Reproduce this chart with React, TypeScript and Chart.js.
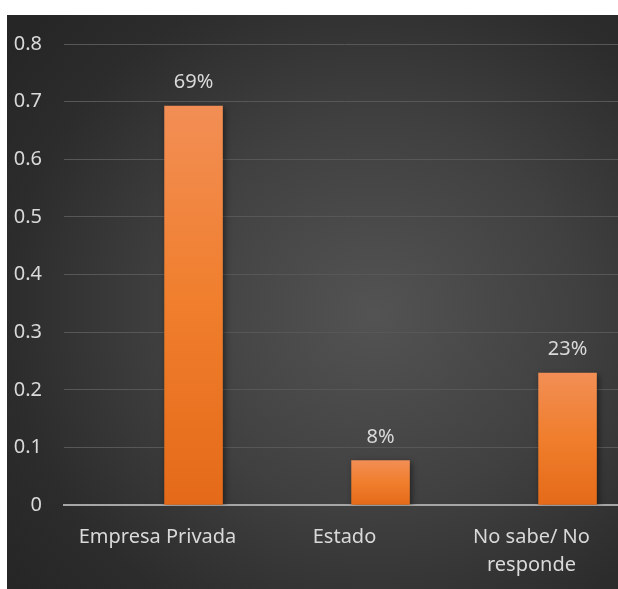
import React, { useEffect, useRef } from "react";
import { Chart, registerables } from "chart.js";

Chart.register(...registerables);

const categories: (string | string[])[] = ["Empresa Privada", "Estado", ["No sabe/ No", "responde"]];
const values: number[] = [0.693, 0.078, 0.23];
const valueLabels: string[] = ["69%", "8%", "23%"];
const emptySeries: (number | null)[] = [null, null, null];
const yMax = 0.8;
const yStep = 0.1;

const FONT = "'Noto Sans', 'Open Sans', sans-serif";
const TEXT = "#d9d9d9";

const dataLabelPlugin = {
  id: "dataLabels",
  beforeDatasetsDraw(chart: any) {
    const c = chart.ctx;
    c.save();
    c.shadowColor = "rgba(0,0,0,0.45)";
    c.shadowBlur = 6;
    c.shadowOffsetX = 2;
    c.shadowOffsetY = 2;
  },
  afterDatasetsDraw(chart: any) {
    const c = chart.ctx;
    c.restore();
    const meta = chart.getDatasetMeta(1);
    c.save();
    c.fillStyle = TEXT;
    c.font = `20px ${FONT}`;
    c.textAlign = "center";
    c.textBaseline = "middle";
    meta.data.forEach((el: any, i: number) => {
      c.fillText(valueLabels[i], el.x, el.y - 23);
    });
    c.restore();
  },
};

export default function App() {
  const ref = useRef<HTMLCanvasElement>(null);
  useEffect(() => {
    if (!ref.current) return;
    const chart = new Chart(ref.current, {
      type: "bar",
      data: {
        labels: categories as any,
        datasets: [
          { label: "s0", data: emptySeries as any, backgroundColor: "transparent" },
          {
            label: "s1",
            data: values,
            backgroundColor: (ctx: any) => {
              const ch = ctx.chart;
              const ys = ch.scales && ch.scales.y;
              if (!ys || ctx.raw == null) return "#ee7b30";
              const top = ys.getPixelForValue(ctx.raw);
              const base = ys.getPixelForValue(0);
              if (!isFinite(top) || !isFinite(base) || top === base) return "#ee7b30";
              const g = ch.ctx.createLinearGradient(0, top, 0, base);
              g.addColorStop(0, "#f28e55");
              g.addColorStop(0.5, "#f07e2c");
              g.addColorStop(1, "#e46a19");
              return g;
            },
            borderWidth: 0,
          },
        ],
      },
      options: {
        responsive: false,
        animation: false,
        categoryPercentage: 0.771,
        barPercentage: 0.8125,
        layout: { padding: { top: 29, left: 0, right: 0, bottom: 0 } },
        plugins: { legend: { display: false }, tooltip: { enabled: false } },
        scales: {
          x: {
            grid: { display: false, drawTicks: false },
            border: { display: true, color: "#a6a6a6", width: 2 },
            ticks: {
              color: TEXT,
              padding: 18,
              maxRotation: 0,
              autoSkip: false,
              font: { family: FONT, size: 20, lineHeight: 1.4 },
            },
            afterFit: (s: any) => {
              s.height = 83.7;
            },
          },
          y: {
            min: 0,
            max: yMax,
            grid: {
              drawTicks: false,
              color: (ctx: any) => (ctx.tick && ctx.tick.value === 0 ? "transparent" : "#575757"),
              lineWidth: 1,
            },
            border: { display: false },
            ticks: {
              stepSize: yStep,
              color: TEXT,
              padding: 22,
              font: { family: FONT, size: 20 },
              callback: (v: any) => String(Math.round(Number(v) * 10) / 10),
            },
            afterFit: (s: any) => {
              s.width = 57;
              s.paddingTop = 0;
              s.paddingBottom = 0;
            },
          },
        },
      },
      plugins: [dataLabelPlugin],
    });
    return () => chart.destroy();
  }, []);

  return (
    <div
      style={{
        position: "absolute",
        left: 7,
        top: 15,
        width: 611,
        height: 574,
        overflow: "hidden",
        background:
          "radial-gradient(ellipse 75% 75% at 60% 52%, #535353 0%, #404040 45%, #2c2c2c 80%, #262626 100%)",
      }}
    >
      <canvas ref={ref} width={618} height={574} style={{ display: "block" }} />
    </div>
  );
}
